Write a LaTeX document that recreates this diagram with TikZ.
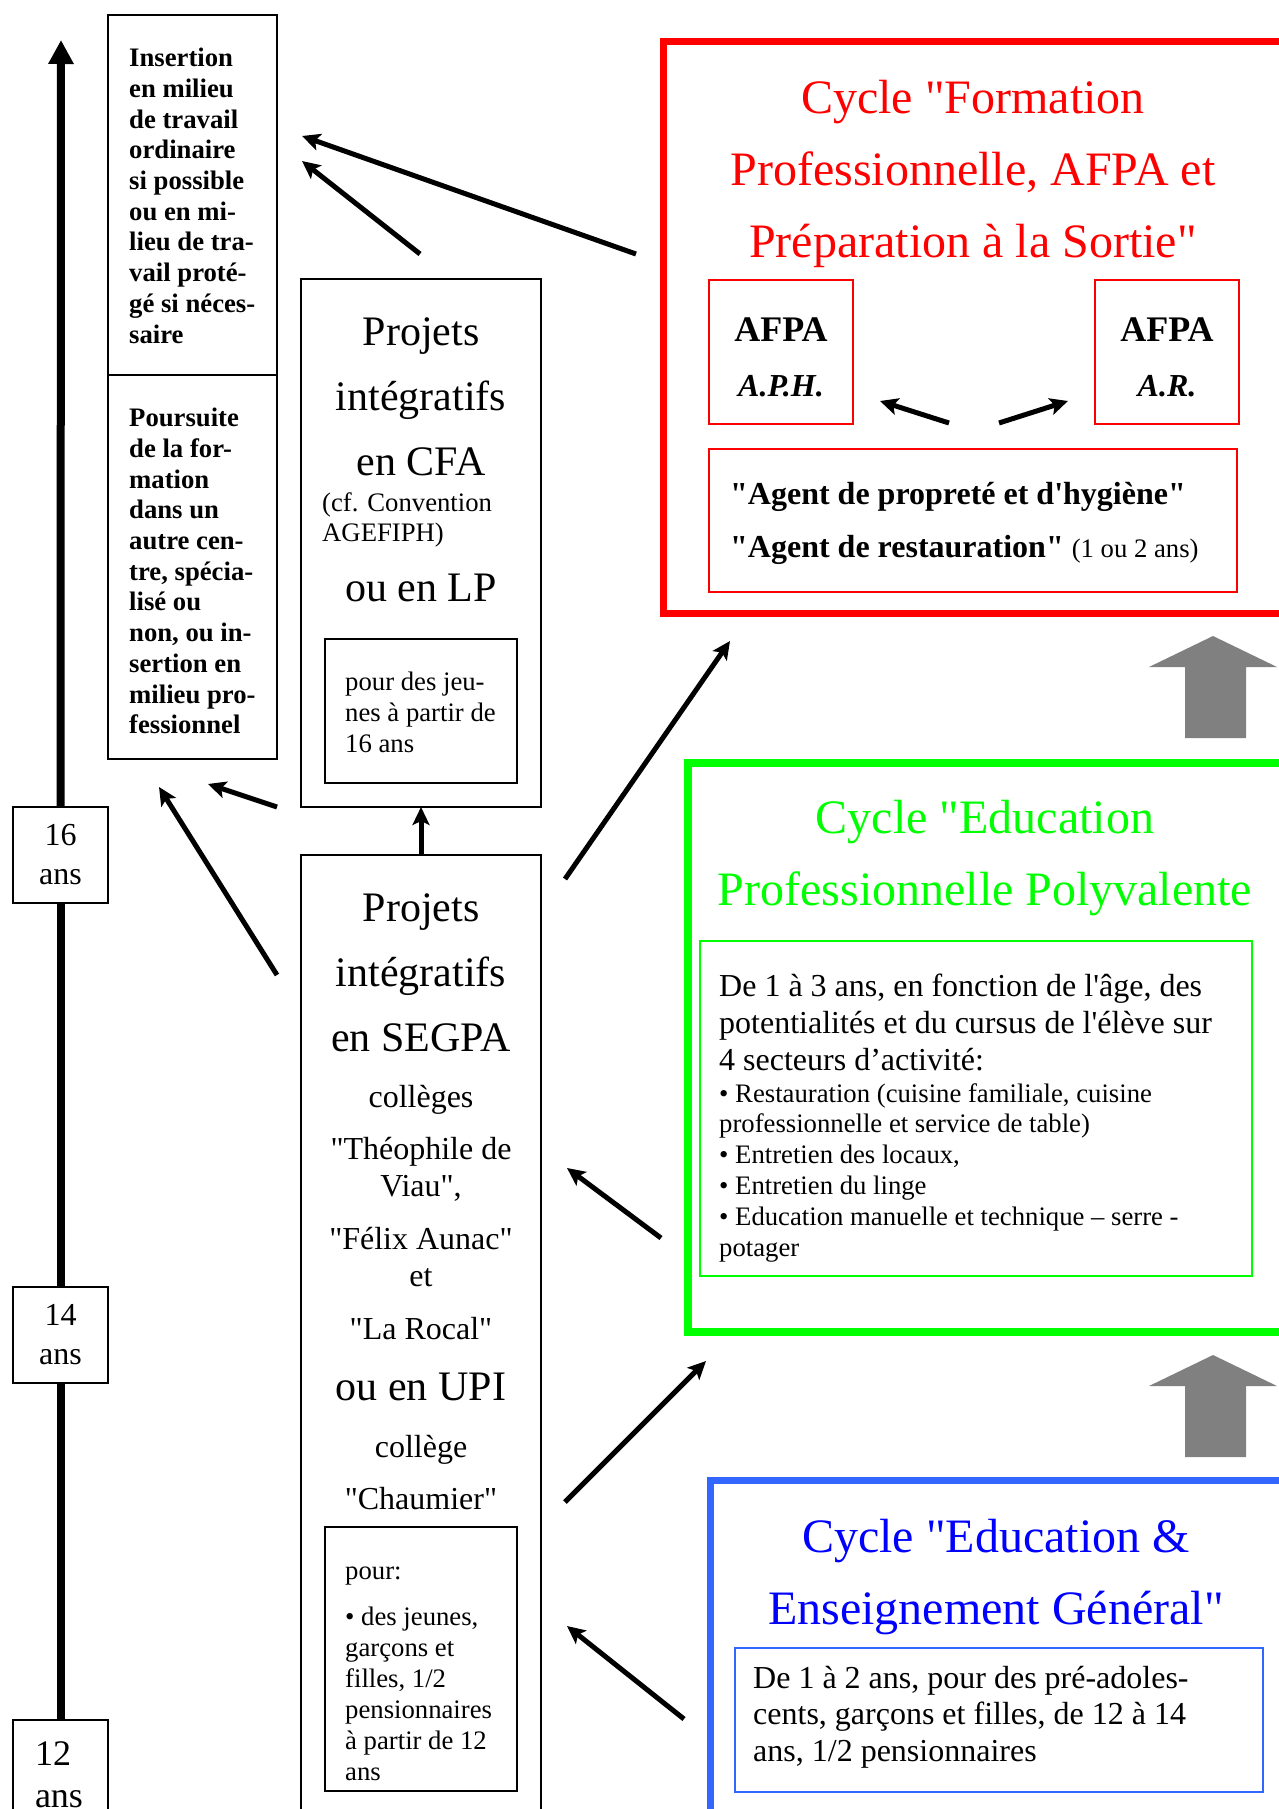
\documentclass[tikz,border=0pt]{standalone}
\usepackage{fontspec}
\setmainfont{Liberation Serif}[Ligatures=TeXOff]
\usetikzlibrary{positioning,calc,arrows.meta}

\definecolor{cyclered}{RGB}{255,0,0}
\definecolor{cyclegreen}{RGB}{0,255,0}
\definecolor{cycleblue}{RGB}{51,102,255}
\definecolor{titleblue}{RGB}{0,0,255}

\newcommand{\cyclesize}{\fontsize{48}{72}\selectfont}
\newcommand{\projsize}{\fontsize{42}{65}\selectfont}
\newcommand{\midsize}{\fontsize{32}{37}\selectfont}
\newcommand{\notesize}{\fontsize{26.7}{30.7}\selectfont}

\tikzset{
  boxframe/.style={draw=black,line width=1.8pt,fill=white,anchor=north west,inner sep=0pt,outer sep=0pt},
  cycleframe/.style={line width=7pt,anchor=north west,inner sep=0pt,minimum width=640pt},
  subframe/.style={line width=2pt,anchor=north west,inner sep=0pt},
  agebox/.style={boxframe,minimum width=95pt,minimum height=96pt,align=center,font=\fontsize{32}{39}\selectfont},
  txt/.style={inner sep=0pt,anchor=north west,align=left},
  cycletitle/.style={inner sep=0pt,anchor=north,align=center,font=\cyclesize},
  arr/.style={line width=5pt,-{Stealth[length=18pt,width=17pt,inset=4pt]}},
  timeline/.style={line width=8pt},
}

\begin{document}
\begin{tikzpicture}[x=1pt,y=-1pt]
\useasboundingbox (0,0) rectangle (1278,1809);

% age scale
\node[agebox] (age16) at (13,807) {16\\ans};
\node[agebox] (age14) at (13,1287) {14\\ans};
\node[agebox,minimum height=110pt,align=left,text width=51pt,inner xsep=22pt,font=\fontsize{36}{42}\selectfont] (age12) at (13,1720) {12\\ans};
\coordinate (timetop) at (61,40);
\draw[timeline] (age12.north) -- (age14.south);
\draw[timeline] (age14.north) -- (age16.south);
\draw[timeline,-{Triangle[length=24pt,width=24pt]}] (age16.north) -- (timetop);

% left column
\node[boxframe,minimum width=169pt,minimum height=360pt] (insertion) at (108,15) {};
\node[boxframe,minimum width=169pt,minimum height=384pt,below=0pt of insertion] (poursuite) {};
\node[txt,font=\notesize\bfseries] (instext) at (129,48) {Insertion\\en milieu\\de travail\\ordinaire\\si possible\\ou en mi-\\lieu de tra-\\vail proté-\\gé si néces-\\saire};
\node[txt,font=\notesize\bfseries] (poutext) at (129,408) {Poursuite\\de la for-\\mation\\dans un\\autre cen-\\tre, spécia-\\lisé ou\\non, ou in-\\sertion en\\milieu pro-\\fessionnel};

% CFA / LP
\node[boxframe,minimum width=240pt,minimum height=528pt] (cfa) at (301,279) {};
\node[cycletitle,font=\projsize] (cfatitle) at (421,317) {Projets\\intégratifs\\en CFA};
\node[txt,font=\fontsize{26.7}{30}\selectfont] (cfanote) at (322,492) {(cf. Convention\\AGEFIPH)};
\node[cycletitle,font=\projsize] (cfalp) at (421,574) {ou en LP};
\node[boxframe,minimum width=192pt,minimum height=144pt] (cfapour) at (325,639) {};
\node[txt,font=\fontsize{26.7}{31}\selectfont] (cfapourtext) at (345,672) {pour des jeu-\\nes à partir de\\16 ans};

% SEGPA / UPI
\node[boxframe,minimum width=240pt,minimum height=980pt] (segpa) at (301,855) {};
\node[cycletitle,font=\projsize] (segtitle) at (421,893) {Projets\\intégratifs\\en SEGPA};
\node[cycletitle,font=\midsize] (segcoll) at (421,1085) {collèges\\[15pt]"Théophile de\\Viau",\\[16pt]"Félix Aunac"\\et\\[16pt]"La Rocal"};
\node[cycletitle,font=\projsize] (segupi) at (421,1373) {ou en UPI};
\node[cycletitle,font=\midsize] (segchau) at (421,1435) {collège\\[15pt]"Chaumier"};
\node[boxframe,minimum width=192pt,minimum height=264pt] (segpour) at (325,1527) {};
\node[txt,font=\fontsize{26.7}{31}\selectfont] (segpourtext) at (345,1567) {pour:\\[15pt]• des jeunes,\\garçons et\\filles, 1/2\\pensionnaires\\à partir de 12\\ans};

% cycle formation professionnelle
\node[cycleframe,draw=cyclered,minimum height=572pt] (formation) at (660,38) {};
\node[cycletitle,text=cyclered] (formtitle) at (973,80) {Cycle "Formation\\Professionnelle, AFPA et\\Préparation à la Sortie"};
\node[subframe,draw=cyclered,minimum width=144pt,minimum height=144pt,align=center,font=\fontsize{32}{55}\selectfont\bfseries] (aph) at (708,279) {{\fontsize{36}{55}\selectfont\rule{0pt}{35pt}AFPA}\\\textit{A.P.H.}};
\node[subframe,draw=cyclered,minimum width=144pt,minimum height=144pt,align=center,font=\fontsize{32}{55}\selectfont\bfseries,anchor=west,right=240pt of aph] (ar) {{\fontsize{36}{55}\selectfont\rule{0pt}{35pt}AFPA}\\\textit{A.R.}};
\node[subframe,draw=cyclered,minimum width=528pt,minimum height=143pt] (agent) at (708,448) {};
\node[txt,font=\fontsize{32}{53}\selectfont\bfseries] (agenttext) at (730,482) {"Agent de propreté et d'hygiène"\\"Agent de restauration" {\mdseries\fontsize{26.7}{30}\selectfont (1 ou 2 ans)}};

% passages between cycles
\foreach \ty in {636,1355}
  \fill[gray] (1149,\ty+31) -- (1213,\ty) -- (1277,\ty+31) -- (1246,\ty+31) -- (1246,\ty+102) -- (1185,\ty+102) -- (1185,\ty+31) -- cycle;

% cycle education professionnelle
\node[cycleframe,draw=cyclegreen,line width=8pt,minimum height=569pt] (epp) at (684,759) {};
\node[cycletitle,text=cyclegreen] (epptitle) at (985,800) {Cycle "Education\\Professionnelle Polyvalente};
\node[subframe,draw=cyclegreen,line width=1.5pt,minimum width=552pt,minimum height=335pt] (eppbox) at (699,940) {};
\node[txt,font=\midsize] (eppdesc) at (719,974) {De 1 à 3 ans, en fonction de l'âge, des\\potentialités et du cursus de l'élève sur\\4 secteurs d’activité:};
\node[txt,font=\fontsize{26.7}{30.8}\selectfont] (eppsect) at (719,1083) {• Restauration (cuisine familiale, cuisine\\professionnelle et service de table)\\• Entretien des locaux,\\• Entretien du linge\\• Education manuelle et technique – serre -\\potager};

% cycle education et enseignement general
\node[cycleframe,draw=cycleblue,minimum height=400pt] (eeg) at (707,1477) {};
\node[cycletitle,text=titleblue] (eegtitle) at (996,1519) {Cycle "Education \&\\Enseignement Général"};
\node[subframe,draw=cycleblue,minimum width=528pt,minimum height=144pt] (eegbox) at (734,1647) {};
\node[txt,font=\fontsize{32}{36.5}\selectfont] (eegdesc) at (753,1666) {De 1 à 2 ans, pour des pré-adoles-\\cents, garçons et filles, de 12 à 14\\ans, 1/2 pensionnaires};

% orientations
\draw[arr] ($(formation.north west)+(-24,216)$) -- ($(insertion.north east)+(25,121)$);
\draw[arr] ($(cfa.north)+(-1,-25)$) -- ($(insertion.north east)+(25,146)$);
\draw[arr] ($(cfa.south west)+(-24,0)$) -- ($(poursuite.south)+(15.5,25)$);
\draw[arr] ($(segpa.north west)+(-24,120)$) -- ($(poursuite.south)+(-33.5,28)$);
\draw[arr] (segpa.north) -- (cfa.south);
\draw[arr] ($(segpa.north east)+(24,24)$) -- ($(formation.south west)+(70,24)$);
\draw[arr] ($(epp.south west)+(-23,-98)$) -- ($(segpa.north east)+(26,313)$);
\draw[arr] ($(segpa.north east)+(24,647)$) -- ($(epp.south west)+(22,25)$);
\draw[arr] ($(eeg.north west)+(-23,242)$) -- ($(segpa.north east)+(26,771)$);
\draw[arr] ($(agent.north)+(-24,-25)$) -- ($(aph.east)+(26,49)$);
\draw[arr] ($(agent.north)+(26,-25)$) -- ($(ar.west)+(-26,49)$);
\end{tikzpicture}
\end{document}
